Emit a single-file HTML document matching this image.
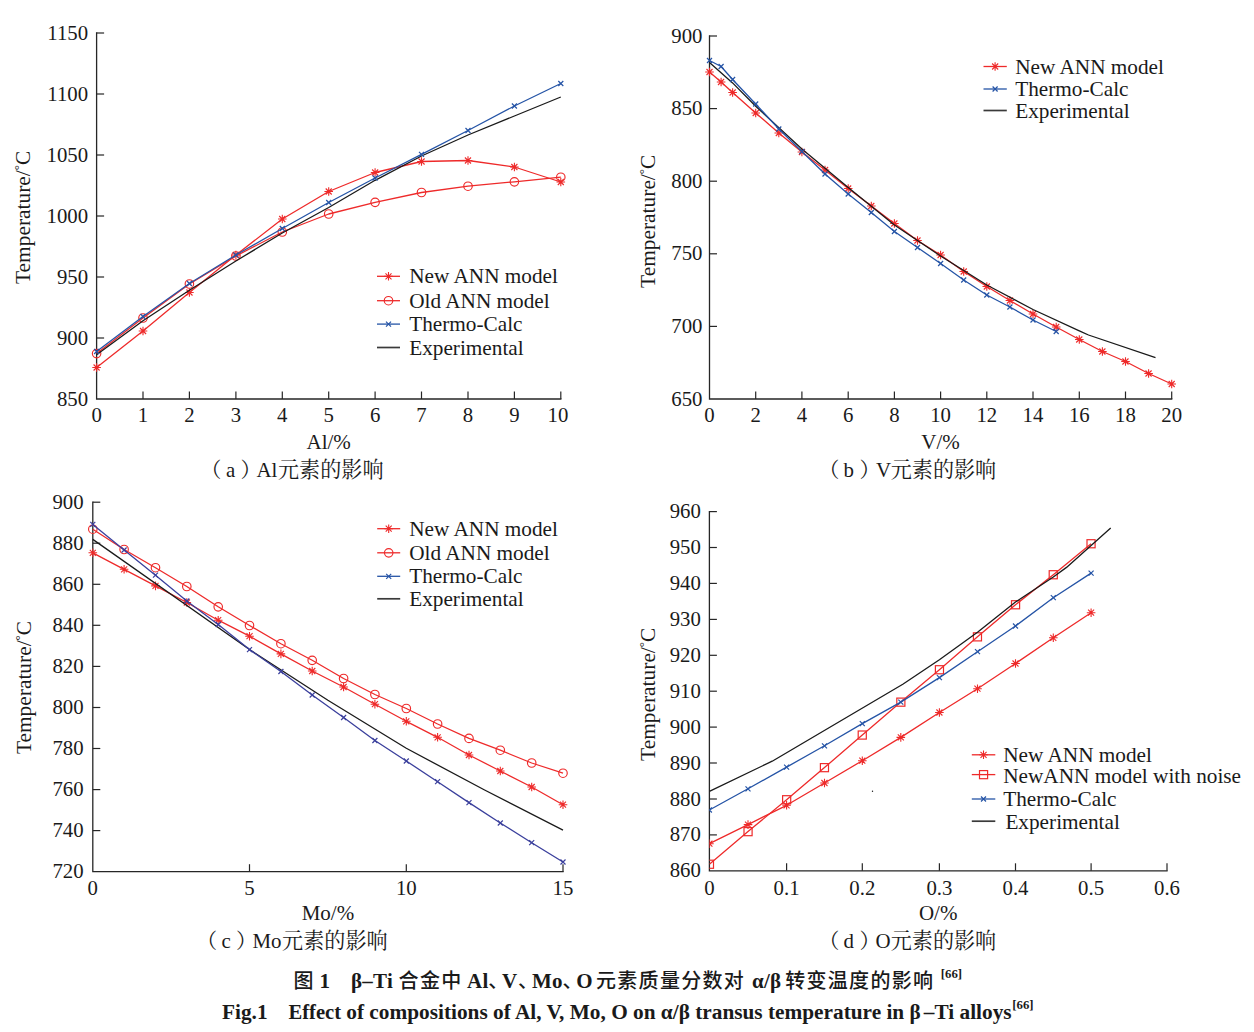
<!DOCTYPE html>
<html lang="zh">
<head>
<meta charset="utf-8">
<title>Fig.1 Effect of compositions on α/β transus temperature in β–Ti alloys</title>
<style>
html, body { margin: 0; padding: 0; background: #ffffff; }
body { width: 1254px; height: 1032px; overflow: hidden; }
svg { display: block; }
svg text { font-family: 'Liberation Serif', 'Noto Serif CJK SC', serif; fill: #1a1a1a; }
</style>
</head>
<body>
<svg width="1254" height="1032" viewBox="0 0 1254 1032">
<rect width="1254" height="1032" fill="#ffffff"/>
<path d="M96.6 33V399H560.8" stroke="#262626" stroke-width="1.3" fill="none" stroke-linecap="square"/>
<text transform="translate(96.6 422.0) scale(0.945 1)" text-anchor="middle" font-size="22">0</text>
<path d="M143.0 399v-7.5" stroke="#262626" stroke-width="1.2"/>
<text transform="translate(143.0 422.0) scale(0.945 1)" text-anchor="middle" font-size="22">1</text>
<path d="M189.4 399v-7.5" stroke="#262626" stroke-width="1.2"/>
<text transform="translate(189.4 422.0) scale(0.945 1)" text-anchor="middle" font-size="22">2</text>
<path d="M235.9 399v-7.5" stroke="#262626" stroke-width="1.2"/>
<text transform="translate(235.9 422.0) scale(0.945 1)" text-anchor="middle" font-size="22">3</text>
<path d="M282.3 399v-7.5" stroke="#262626" stroke-width="1.2"/>
<text transform="translate(282.3 422.0) scale(0.945 1)" text-anchor="middle" font-size="22">4</text>
<path d="M328.7 399v-7.5" stroke="#262626" stroke-width="1.2"/>
<text transform="translate(328.7 422.0) scale(0.945 1)" text-anchor="middle" font-size="22">5</text>
<path d="M375.1 399v-7.5" stroke="#262626" stroke-width="1.2"/>
<text transform="translate(375.1 422.0) scale(0.945 1)" text-anchor="middle" font-size="22">6</text>
<path d="M421.5 399v-7.5" stroke="#262626" stroke-width="1.2"/>
<text transform="translate(421.5 422.0) scale(0.945 1)" text-anchor="middle" font-size="22">7</text>
<path d="M468.0 399v-7.5" stroke="#262626" stroke-width="1.2"/>
<text transform="translate(468.0 422.0) scale(0.945 1)" text-anchor="middle" font-size="22">8</text>
<path d="M514.4 399v-7.5" stroke="#262626" stroke-width="1.2"/>
<text transform="translate(514.4 422.0) scale(0.945 1)" text-anchor="middle" font-size="22">9</text>
<path d="M560.8 399v-7.5" stroke="#262626" stroke-width="1.2"/>
<text transform="translate(558.0 422.0) scale(0.945 1)" text-anchor="middle" font-size="22">10</text>
<text transform="translate(88.1 405.5) scale(0.945 1)" text-anchor="end" font-size="22">850</text>
<path d="M96.6 338.0h7.5" stroke="#262626" stroke-width="1.2"/>
<text transform="translate(88.1 344.5) scale(0.945 1)" text-anchor="end" font-size="22">900</text>
<path d="M96.6 277.0h7.5" stroke="#262626" stroke-width="1.2"/>
<text transform="translate(88.1 283.5) scale(0.945 1)" text-anchor="end" font-size="22">950</text>
<path d="M96.6 216.0h7.5" stroke="#262626" stroke-width="1.2"/>
<text transform="translate(88.1 222.5) scale(0.945 1)" text-anchor="end" font-size="22">1000</text>
<path d="M96.6 155.0h7.5" stroke="#262626" stroke-width="1.2"/>
<text transform="translate(88.1 161.5) scale(0.945 1)" text-anchor="end" font-size="22">1050</text>
<path d="M96.6 94.0h7.5" stroke="#262626" stroke-width="1.2"/>
<text transform="translate(88.1 100.5) scale(0.945 1)" text-anchor="end" font-size="22">1100</text>
<path d="M96.6 33.0h7.5" stroke="#262626" stroke-width="1.2"/>
<text transform="translate(88.1 39.5) scale(0.945 1)" text-anchor="end" font-size="22">1150</text>
<text x="328.7" y="449" text-anchor="middle" font-size="21">Al/%</text>
<text transform="translate(30.3 217.4) rotate(-90)" text-anchor="middle" font-size="21.4">Temperature/<tspan font-size="13" dy="-7">°</tspan><tspan dy="7">C</tspan></text>
<polyline points="96.6,367.5 143.0,331.0 189.4,292.5 235.9,255.0 282.3,219.0 328.7,191.5 375.1,172.5 421.5,161.5 468.0,160.5 514.4,167.0 560.8,182.0" stroke="#ee2a2a" stroke-width="1.3" fill="none" stroke-linejoin="round"/>
<path d="M92.3 367.5H100.9M96.6 363.2V371.8M93.6 364.5L99.6 370.5M93.6 370.5L99.6 364.5" stroke="#ee2a2a" stroke-width="1.1" fill="none"/>
<path d="M138.7 331.0H147.3M143.0 326.7V335.3M140.0 328.0L146.1 334.0M140.0 334.0L146.1 328.0" stroke="#ee2a2a" stroke-width="1.1" fill="none"/>
<path d="M185.1 292.5H193.7M189.4 288.2V296.8M186.4 289.5L192.5 295.5M186.4 295.5L192.5 289.5" stroke="#ee2a2a" stroke-width="1.1" fill="none"/>
<path d="M231.6 255.0H240.2M235.9 250.7V259.3M232.8 252.0L238.9 258.0M232.8 258.0L238.9 252.0" stroke="#ee2a2a" stroke-width="1.1" fill="none"/>
<path d="M278.0 219.0H286.6M282.3 214.7V223.3M279.2 216.0L285.3 222.0M279.2 222.0L285.3 216.0" stroke="#ee2a2a" stroke-width="1.1" fill="none"/>
<path d="M324.4 191.5H333.0M328.7 187.2V195.8M325.7 188.5L331.7 194.5M325.7 194.5L331.7 188.5" stroke="#ee2a2a" stroke-width="1.1" fill="none"/>
<path d="M370.8 172.5H379.4M375.1 168.2V176.8M372.1 169.5L378.2 175.5M372.1 175.5L378.2 169.5" stroke="#ee2a2a" stroke-width="1.1" fill="none"/>
<path d="M417.2 161.5H425.8M421.5 157.2V165.8M418.5 158.5L424.6 164.5M418.5 164.5L424.6 158.5" stroke="#ee2a2a" stroke-width="1.1" fill="none"/>
<path d="M463.7 160.5H472.3M468.0 156.2V164.8M464.9 157.5L471.0 163.5M464.9 163.5L471.0 157.5" stroke="#ee2a2a" stroke-width="1.1" fill="none"/>
<path d="M510.1 167.0H518.7M514.4 162.7V171.3M511.3 164.0L517.4 170.0M511.3 170.0L517.4 164.0" stroke="#ee2a2a" stroke-width="1.1" fill="none"/>
<path d="M556.5 182.0H565.1M560.8 177.7V186.3M557.8 179.0L563.8 185.0M557.8 185.0L563.8 179.0" stroke="#ee2a2a" stroke-width="1.1" fill="none"/>
<polyline points="96.6,353.6 143.0,318.0 189.4,284.0 235.9,256.0 282.3,232.0 328.7,214.0 375.1,202.3 421.5,192.5 468.0,186.2 514.4,181.8 560.8,177.2" stroke="#ee2a2a" stroke-width="1.3" fill="none" stroke-linejoin="round"/>
<circle cx="96.6" cy="353.6" r="4.25" stroke="#ee2a2a" stroke-width="1.15" fill="none"/>
<circle cx="143.0" cy="318.0" r="4.25" stroke="#ee2a2a" stroke-width="1.15" fill="none"/>
<circle cx="189.4" cy="284.0" r="4.25" stroke="#ee2a2a" stroke-width="1.15" fill="none"/>
<circle cx="235.9" cy="256.0" r="4.25" stroke="#ee2a2a" stroke-width="1.15" fill="none"/>
<circle cx="282.3" cy="232.0" r="4.25" stroke="#ee2a2a" stroke-width="1.15" fill="none"/>
<circle cx="328.7" cy="214.0" r="4.25" stroke="#ee2a2a" stroke-width="1.15" fill="none"/>
<circle cx="375.1" cy="202.3" r="4.25" stroke="#ee2a2a" stroke-width="1.15" fill="none"/>
<circle cx="421.5" cy="192.5" r="4.25" stroke="#ee2a2a" stroke-width="1.15" fill="none"/>
<circle cx="468.0" cy="186.2" r="4.25" stroke="#ee2a2a" stroke-width="1.15" fill="none"/>
<circle cx="514.4" cy="181.8" r="4.25" stroke="#ee2a2a" stroke-width="1.15" fill="none"/>
<circle cx="560.8" cy="177.2" r="4.25" stroke="#ee2a2a" stroke-width="1.15" fill="none"/>
<polyline points="96.6,354.7 143.0,320.8 189.4,290.3 235.9,261.0 282.3,233.0 328.7,207.5 375.1,180.3 421.5,156.0 468.0,135.0 514.4,116.0 560.8,97.0" stroke="#1a1a1a" stroke-width="1.3" fill="none" stroke-linejoin="round"/>
<polyline points="96.6,351.5 143.0,316.5 189.4,283.5 235.9,255.0 282.3,228.5 328.7,202.5 375.1,178.0 421.5,154.3 468.0,130.5 514.4,106.0 560.8,83.5" stroke="#2554a6" stroke-width="1.3" fill="none" stroke-linejoin="round"/>
<path d="M94.1 349.0L99.1 354.0M94.1 354.0L99.1 349.0" stroke="#2554a6" stroke-width="1.2" fill="none"/>
<path d="M140.5 314.0L145.5 319.0M140.5 319.0L145.5 314.0" stroke="#2554a6" stroke-width="1.2" fill="none"/>
<path d="M186.9 281.0L191.9 286.0M186.9 286.0L191.9 281.0" stroke="#2554a6" stroke-width="1.2" fill="none"/>
<path d="M233.4 252.5L238.4 257.5M233.4 257.5L238.4 252.5" stroke="#2554a6" stroke-width="1.2" fill="none"/>
<path d="M279.8 226.0L284.8 231.0M279.8 231.0L284.8 226.0" stroke="#2554a6" stroke-width="1.2" fill="none"/>
<path d="M326.2 200.0L331.2 205.0M326.2 205.0L331.2 200.0" stroke="#2554a6" stroke-width="1.2" fill="none"/>
<path d="M372.6 175.5L377.6 180.5M372.6 180.5L377.6 175.5" stroke="#2554a6" stroke-width="1.2" fill="none"/>
<path d="M419.0 151.8L424.0 156.8M419.0 156.8L424.0 151.8" stroke="#2554a6" stroke-width="1.2" fill="none"/>
<path d="M465.5 128.0L470.5 133.0M465.5 133.0L470.5 128.0" stroke="#2554a6" stroke-width="1.2" fill="none"/>
<path d="M511.9 103.5L516.9 108.5M511.9 108.5L516.9 103.5" stroke="#2554a6" stroke-width="1.2" fill="none"/>
<path d="M558.3 81.0L563.3 86.0M558.3 86.0L563.3 81.0" stroke="#2554a6" stroke-width="1.2" fill="none"/>
<path d="M377 276.3H400" stroke="#ee2a2a" stroke-width="1.3"/>
<path d="M384.2 276.3H392.8M388.5 272.0V280.6M385.5 273.3L391.5 279.3M385.5 279.3L391.5 273.3" stroke="#ee2a2a" stroke-width="1.1" fill="none"/>
<text x="409.2" y="283.3" font-size="21.25">New ANN model</text>
<path d="M377 300.7H400" stroke="#ee2a2a" stroke-width="1.3"/>
<circle cx="388.5" cy="300.7" r="4.25" stroke="#ee2a2a" stroke-width="1.15" fill="none"/>
<text x="409.2" y="307.7" font-size="21.25">Old ANN model</text>
<path d="M377 324.1H400" stroke="#2554a6" stroke-width="1.3"/>
<path d="M386.0 321.6L391.0 326.6M386.0 326.6L391.0 321.6" stroke="#2554a6" stroke-width="1.2" fill="none"/>
<text x="409.2" y="331.1" font-size="21.25">Thermo-Calc</text>
<path d="M377 347.5H400" stroke="#3a3a3a" stroke-width="1.7"/>
<text x="409.2" y="354.5" font-size="21.25">Experimental</text>
<text y="477" font-size="20.9"><tspan x="200.4">（</tspan><tspan x="226">a</tspan><tspan x="240.6">）</tspan><tspan x="256.5">Al</tspan><tspan x="278" style="font-size:21.1px">元素的影响</tspan></text>
<path d="M709.5 36V399H1171.7" stroke="#262626" stroke-width="1.3" fill="none" stroke-linecap="square"/>
<text transform="translate(709.5 421.5) scale(0.945 1)" text-anchor="middle" font-size="22">0</text>
<path d="M755.7 399v-7.5" stroke="#262626" stroke-width="1.2"/>
<text transform="translate(755.7 421.5) scale(0.945 1)" text-anchor="middle" font-size="22">2</text>
<path d="M801.9 399v-7.5" stroke="#262626" stroke-width="1.2"/>
<text transform="translate(801.9 421.5) scale(0.945 1)" text-anchor="middle" font-size="22">4</text>
<path d="M848.2 399v-7.5" stroke="#262626" stroke-width="1.2"/>
<text transform="translate(848.2 421.5) scale(0.945 1)" text-anchor="middle" font-size="22">6</text>
<path d="M894.4 399v-7.5" stroke="#262626" stroke-width="1.2"/>
<text transform="translate(894.4 421.5) scale(0.945 1)" text-anchor="middle" font-size="22">8</text>
<path d="M940.6 399v-7.5" stroke="#262626" stroke-width="1.2"/>
<text transform="translate(940.6 421.5) scale(0.945 1)" text-anchor="middle" font-size="22">10</text>
<path d="M986.8 399v-7.5" stroke="#262626" stroke-width="1.2"/>
<text transform="translate(986.8 421.5) scale(0.945 1)" text-anchor="middle" font-size="22">12</text>
<path d="M1033.0 399v-7.5" stroke="#262626" stroke-width="1.2"/>
<text transform="translate(1033.0 421.5) scale(0.945 1)" text-anchor="middle" font-size="22">14</text>
<path d="M1079.3 399v-7.5" stroke="#262626" stroke-width="1.2"/>
<text transform="translate(1079.3 421.5) scale(0.945 1)" text-anchor="middle" font-size="22">16</text>
<path d="M1125.5 399v-7.5" stroke="#262626" stroke-width="1.2"/>
<text transform="translate(1125.5 421.5) scale(0.945 1)" text-anchor="middle" font-size="22">18</text>
<path d="M1171.7 399v-7.5" stroke="#262626" stroke-width="1.2"/>
<text transform="translate(1171.7 421.5) scale(0.945 1)" text-anchor="middle" font-size="22">20</text>
<text transform="translate(702.5 405.5) scale(0.945 1)" text-anchor="end" font-size="22">650</text>
<path d="M709.5 326.4h7.5" stroke="#262626" stroke-width="1.2"/>
<text transform="translate(702.5 332.9) scale(0.945 1)" text-anchor="end" font-size="22">700</text>
<path d="M709.5 253.8h7.5" stroke="#262626" stroke-width="1.2"/>
<text transform="translate(702.5 260.3) scale(0.945 1)" text-anchor="end" font-size="22">750</text>
<path d="M709.5 181.2h7.5" stroke="#262626" stroke-width="1.2"/>
<text transform="translate(702.5 187.7) scale(0.945 1)" text-anchor="end" font-size="22">800</text>
<path d="M709.5 108.6h7.5" stroke="#262626" stroke-width="1.2"/>
<text transform="translate(702.5 115.1) scale(0.945 1)" text-anchor="end" font-size="22">850</text>
<path d="M709.5 36.0h7.5" stroke="#262626" stroke-width="1.2"/>
<text transform="translate(702.5 42.5) scale(0.945 1)" text-anchor="end" font-size="22">900</text>
<text x="940.6" y="449" text-anchor="middle" font-size="21">V/%</text>
<text transform="translate(655 221.3) rotate(-90)" text-anchor="middle" font-size="21.4">Temperature/<tspan font-size="13" dy="-7">°</tspan><tspan dy="7">C</tspan></text>
<polyline points="709.5,72.0 721.1,82.0 732.6,92.5 755.7,113.0 778.8,133.0 801.9,152.0 825.0,170.0 848.2,188.5 871.3,206.0 894.4,223.5 917.5,240.5 940.6,255.0 963.7,271.5 986.8,286.5 1009.9,300.5 1033.0,314.0 1056.2,327.0 1079.3,339.5 1102.4,351.5 1125.5,361.5 1148.6,373.5 1171.7,384.0" stroke="#ee2a2a" stroke-width="1.3" fill="none" stroke-linejoin="round"/>
<path d="M705.2 72.0H713.8M709.5 67.7V76.3M706.5 69.0L712.5 75.0M706.5 75.0L712.5 69.0" stroke="#ee2a2a" stroke-width="1.1" fill="none"/>
<path d="M716.8 82.0H725.4M721.1 77.7V86.3M718.0 79.0L724.1 85.0M718.0 85.0L724.1 79.0" stroke="#ee2a2a" stroke-width="1.1" fill="none"/>
<path d="M728.3 92.5H736.9M732.6 88.2V96.8M729.6 89.5L735.7 95.5M729.6 95.5L735.7 89.5" stroke="#ee2a2a" stroke-width="1.1" fill="none"/>
<path d="M751.4 113.0H760.0M755.7 108.7V117.3M752.7 110.0L758.8 116.0M752.7 116.0L758.8 110.0" stroke="#ee2a2a" stroke-width="1.1" fill="none"/>
<path d="M774.5 133.0H783.1M778.8 128.7V137.3M775.8 130.0L781.9 136.0M775.8 136.0L781.9 130.0" stroke="#ee2a2a" stroke-width="1.1" fill="none"/>
<path d="M797.6 152.0H806.2M801.9 147.7V156.3M798.9 149.0L805.0 155.0M798.9 155.0L805.0 149.0" stroke="#ee2a2a" stroke-width="1.1" fill="none"/>
<path d="M820.8 170.0H829.3M825.0 165.7V174.3M822.0 167.0L828.1 173.0M822.0 173.0L828.1 167.0" stroke="#ee2a2a" stroke-width="1.1" fill="none"/>
<path d="M843.9 188.5H852.5M848.2 184.2V192.8M845.1 185.5L851.2 191.5M845.1 191.5L851.2 185.5" stroke="#ee2a2a" stroke-width="1.1" fill="none"/>
<path d="M867.0 206.0H875.6M871.3 201.7V210.3M868.2 203.0L874.3 209.0M868.2 209.0L874.3 203.0" stroke="#ee2a2a" stroke-width="1.1" fill="none"/>
<path d="M890.1 223.5H898.7M894.4 219.2V227.8M891.3 220.5L897.4 226.5M891.3 226.5L897.4 220.5" stroke="#ee2a2a" stroke-width="1.1" fill="none"/>
<path d="M913.2 240.5H921.8M917.5 236.2V244.8M914.4 237.5L920.5 243.5M914.4 243.5L920.5 237.5" stroke="#ee2a2a" stroke-width="1.1" fill="none"/>
<path d="M936.3 255.0H944.9M940.6 250.7V259.3M937.6 252.0L943.6 258.0M937.6 258.0L943.6 252.0" stroke="#ee2a2a" stroke-width="1.1" fill="none"/>
<path d="M959.4 271.5H968.0M963.7 267.2V275.8M960.7 268.5L966.8 274.5M960.7 274.5L966.8 268.5" stroke="#ee2a2a" stroke-width="1.1" fill="none"/>
<path d="M982.5 286.5H991.1M986.8 282.2V290.8M983.8 283.5L989.9 289.5M983.8 289.5L989.9 283.5" stroke="#ee2a2a" stroke-width="1.1" fill="none"/>
<path d="M1005.6 300.5H1014.2M1009.9 296.2V304.8M1006.9 297.5L1013.0 303.5M1006.9 303.5L1013.0 297.5" stroke="#ee2a2a" stroke-width="1.1" fill="none"/>
<path d="M1028.7 314.0H1037.3M1033.0 309.7V318.3M1030.0 311.0L1036.1 317.0M1030.0 317.0L1036.1 311.0" stroke="#ee2a2a" stroke-width="1.1" fill="none"/>
<path d="M1051.9 327.0H1060.5M1056.2 322.7V331.3M1053.1 324.0L1059.2 330.0M1053.1 330.0L1059.2 324.0" stroke="#ee2a2a" stroke-width="1.1" fill="none"/>
<path d="M1075.0 339.5H1083.6M1079.3 335.2V343.8M1076.2 336.5L1082.3 342.5M1076.2 342.5L1082.3 336.5" stroke="#ee2a2a" stroke-width="1.1" fill="none"/>
<path d="M1098.1 351.5H1106.7M1102.4 347.2V355.8M1099.3 348.5L1105.4 354.5M1099.3 354.5L1105.4 348.5" stroke="#ee2a2a" stroke-width="1.1" fill="none"/>
<path d="M1121.2 361.5H1129.8M1125.5 357.2V365.8M1122.4 358.5L1128.5 364.5M1122.4 364.5L1128.5 358.5" stroke="#ee2a2a" stroke-width="1.1" fill="none"/>
<path d="M1144.3 373.5H1152.9M1148.6 369.2V377.8M1145.5 370.5L1151.6 376.5M1145.5 376.5L1151.6 370.5" stroke="#ee2a2a" stroke-width="1.1" fill="none"/>
<path d="M1167.4 384.0H1176.0M1171.7 379.7V388.3M1168.7 381.0L1174.7 387.0M1168.7 387.0L1174.7 381.0" stroke="#ee2a2a" stroke-width="1.1" fill="none"/>
<polyline points="709.5,62.5 732.6,82.9 755.7,106.2 801.9,149.0 848.2,187.5 894.4,225.0 940.6,256.0 986.8,285.0 1033.0,309.5 1079.3,330.8 1088.5,335.0 1155.5,357.7" stroke="#1a1a1a" stroke-width="1.3" fill="none" stroke-linejoin="round"/>
<polyline points="709.5,60.5 721.1,66.5 732.6,79.5 755.7,104.0 778.8,129.0 801.9,151.5 825.0,174.0 848.2,194.0 871.3,212.5 894.4,231.5 917.5,247.5 940.6,263.5 963.7,280.0 986.8,295.0 1009.9,307.0 1033.0,320.0 1056.2,331.5" stroke="#2554a6" stroke-width="1.3" fill="none" stroke-linejoin="round"/>
<path d="M707.0 58.0L712.0 63.0M707.0 63.0L712.0 58.0" stroke="#2554a6" stroke-width="1.2" fill="none"/>
<path d="M718.6 64.0L723.6 69.0M718.6 69.0L723.6 64.0" stroke="#2554a6" stroke-width="1.2" fill="none"/>
<path d="M730.1 77.0L735.1 82.0M730.1 82.0L735.1 77.0" stroke="#2554a6" stroke-width="1.2" fill="none"/>
<path d="M753.2 101.5L758.2 106.5M753.2 106.5L758.2 101.5" stroke="#2554a6" stroke-width="1.2" fill="none"/>
<path d="M776.3 126.5L781.3 131.5M776.3 131.5L781.3 126.5" stroke="#2554a6" stroke-width="1.2" fill="none"/>
<path d="M799.4 149.0L804.4 154.0M799.4 154.0L804.4 149.0" stroke="#2554a6" stroke-width="1.2" fill="none"/>
<path d="M822.5 171.5L827.5 176.5M822.5 176.5L827.5 171.5" stroke="#2554a6" stroke-width="1.2" fill="none"/>
<path d="M845.7 191.5L850.7 196.5M845.7 196.5L850.7 191.5" stroke="#2554a6" stroke-width="1.2" fill="none"/>
<path d="M868.8 210.0L873.8 215.0M868.8 215.0L873.8 210.0" stroke="#2554a6" stroke-width="1.2" fill="none"/>
<path d="M891.9 229.0L896.9 234.0M891.9 234.0L896.9 229.0" stroke="#2554a6" stroke-width="1.2" fill="none"/>
<path d="M915.0 245.0L920.0 250.0M915.0 250.0L920.0 245.0" stroke="#2554a6" stroke-width="1.2" fill="none"/>
<path d="M938.1 261.0L943.1 266.0M938.1 266.0L943.1 261.0" stroke="#2554a6" stroke-width="1.2" fill="none"/>
<path d="M961.2 277.5L966.2 282.5M961.2 282.5L966.2 277.5" stroke="#2554a6" stroke-width="1.2" fill="none"/>
<path d="M984.3 292.5L989.3 297.5M984.3 297.5L989.3 292.5" stroke="#2554a6" stroke-width="1.2" fill="none"/>
<path d="M1007.4 304.5L1012.4 309.5M1007.4 309.5L1012.4 304.5" stroke="#2554a6" stroke-width="1.2" fill="none"/>
<path d="M1030.5 317.5L1035.5 322.5M1030.5 322.5L1035.5 317.5" stroke="#2554a6" stroke-width="1.2" fill="none"/>
<path d="M1053.7 329.0L1058.7 334.0M1053.7 334.0L1058.7 329.0" stroke="#2554a6" stroke-width="1.2" fill="none"/>
<path d="M983.5 66.5H1006.8" stroke="#ee2a2a" stroke-width="1.3"/>
<path d="M990.9 66.5H999.4M995.1 62.2V70.8M992.1 63.5L998.2 69.5M992.1 69.5L998.2 63.5" stroke="#ee2a2a" stroke-width="1.1" fill="none"/>
<text x="1015.2" y="73.5" font-size="21.25">New ANN model</text>
<path d="M983.5 89H1006.8" stroke="#2554a6" stroke-width="1.3"/>
<path d="M992.6 86.5L997.6 91.5M992.6 91.5L997.6 86.5" stroke="#2554a6" stroke-width="1.2" fill="none"/>
<text x="1015.2" y="96" font-size="21.25">Thermo-Calc</text>
<path d="M983.5 110.5H1006.8" stroke="#3a3a3a" stroke-width="1.7"/>
<text x="1015.2" y="117.5" font-size="21.25">Experimental</text>
<text y="477" font-size="20.9"><tspan x="818.4">（</tspan><tspan x="843.5">b</tspan><tspan x="859.6">）</tspan><tspan x="876">V</tspan><tspan x="890.7" style="font-size:21.1px">元素的影响</tspan></text>
<path d="M92.8 502.2V871.7H563" stroke="#262626" stroke-width="1.3" fill="none" stroke-linecap="square"/>
<text transform="translate(92.8 894.8) scale(0.945 1)" text-anchor="middle" font-size="22">0</text>
<path d="M249.5 871.7v-7.5" stroke="#262626" stroke-width="1.2"/>
<text transform="translate(249.5 894.8) scale(0.945 1)" text-anchor="middle" font-size="22">5</text>
<path d="M406.3 871.7v-7.5" stroke="#262626" stroke-width="1.2"/>
<text transform="translate(406.3 894.8) scale(0.945 1)" text-anchor="middle" font-size="22">10</text>
<path d="M563.0 871.7v-7.5" stroke="#262626" stroke-width="1.2"/>
<text transform="translate(563.0 894.8) scale(0.945 1)" text-anchor="middle" font-size="22">15</text>
<text transform="translate(83.6 878.2) scale(0.945 1)" text-anchor="end" font-size="22">720</text>
<path d="M92.8 830.6h7.5" stroke="#262626" stroke-width="1.2"/>
<text transform="translate(83.6 837.1) scale(0.945 1)" text-anchor="end" font-size="22">740</text>
<path d="M92.8 789.6h7.5" stroke="#262626" stroke-width="1.2"/>
<text transform="translate(83.6 796.1) scale(0.945 1)" text-anchor="end" font-size="22">760</text>
<path d="M92.8 748.5h7.5" stroke="#262626" stroke-width="1.2"/>
<text transform="translate(83.6 755.0) scale(0.945 1)" text-anchor="end" font-size="22">780</text>
<path d="M92.8 707.5h7.5" stroke="#262626" stroke-width="1.2"/>
<text transform="translate(83.6 714.0) scale(0.945 1)" text-anchor="end" font-size="22">800</text>
<path d="M92.8 666.4h7.5" stroke="#262626" stroke-width="1.2"/>
<text transform="translate(83.6 672.9) scale(0.945 1)" text-anchor="end" font-size="22">820</text>
<path d="M92.8 625.3h7.5" stroke="#262626" stroke-width="1.2"/>
<text transform="translate(83.6 631.8) scale(0.945 1)" text-anchor="end" font-size="22">840</text>
<path d="M92.8 584.3h7.5" stroke="#262626" stroke-width="1.2"/>
<text transform="translate(83.6 590.8) scale(0.945 1)" text-anchor="end" font-size="22">860</text>
<path d="M92.8 543.2h7.5" stroke="#262626" stroke-width="1.2"/>
<text transform="translate(83.6 549.7) scale(0.945 1)" text-anchor="end" font-size="22">880</text>
<path d="M92.8 502.2h7.5" stroke="#262626" stroke-width="1.2"/>
<text transform="translate(83.6 508.7) scale(0.945 1)" text-anchor="end" font-size="22">900</text>
<text x="327.9" y="920" text-anchor="middle" font-size="21">Mo/%</text>
<text transform="translate(30.5 687.5) rotate(-90)" text-anchor="middle" font-size="21.4">Temperature/<tspan font-size="13" dy="-7">°</tspan><tspan dy="7">C</tspan></text>
<polyline points="92.8,552.8 124.1,569.3 155.5,585.9 186.8,602.5 218.2,620.2 249.5,636.2 280.9,653.9 312.2,671.0 343.6,687.0 374.9,704.2 406.3,721.3 437.6,737.3 469.0,755.0 500.3,771.0 531.7,787.0 563.0,804.7" stroke="#ee2a2a" stroke-width="1.3" fill="none" stroke-linejoin="round"/>
<path d="M88.5 552.8H97.1M92.8 548.5V557.1M89.8 549.8L95.8 555.8M89.8 555.8L95.8 549.8" stroke="#ee2a2a" stroke-width="1.1" fill="none"/>
<path d="M119.8 569.3H128.4M124.1 565.0V573.6M121.1 566.3L127.2 572.3M121.1 572.3L127.2 566.3" stroke="#ee2a2a" stroke-width="1.1" fill="none"/>
<path d="M151.2 585.9H159.8M155.5 581.6V590.2M152.5 582.9L158.5 588.9M152.5 588.9L158.5 582.9" stroke="#ee2a2a" stroke-width="1.1" fill="none"/>
<path d="M182.5 602.5H191.1M186.8 598.2V606.8M183.8 599.5L189.9 605.5M183.8 605.5L189.9 599.5" stroke="#ee2a2a" stroke-width="1.1" fill="none"/>
<path d="M213.9 620.2H222.5M218.2 615.9V624.5M215.1 617.2L221.2 623.2M215.1 623.2L221.2 617.2" stroke="#ee2a2a" stroke-width="1.1" fill="none"/>
<path d="M245.2 636.2H253.8M249.5 631.9V640.5M246.5 633.2L252.6 639.2M246.5 639.2L252.6 633.2" stroke="#ee2a2a" stroke-width="1.1" fill="none"/>
<path d="M276.6 653.9H285.2M280.9 649.6V658.2M277.8 650.9L283.9 656.9M277.8 656.9L283.9 650.9" stroke="#ee2a2a" stroke-width="1.1" fill="none"/>
<path d="M307.9 671.0H316.5M312.2 666.7V675.3M309.2 668.0L315.3 674.0M309.2 674.0L315.3 668.0" stroke="#ee2a2a" stroke-width="1.1" fill="none"/>
<path d="M339.3 687.0H347.9M343.6 682.7V691.3M340.5 684.0L346.6 690.0M340.5 690.0L346.6 684.0" stroke="#ee2a2a" stroke-width="1.1" fill="none"/>
<path d="M370.6 704.2H379.2M374.9 699.9V708.5M371.9 701.2L378.0 707.2M371.9 707.2L378.0 701.2" stroke="#ee2a2a" stroke-width="1.1" fill="none"/>
<path d="M402.0 721.3H410.6M406.3 717.0V725.6M403.2 718.3L409.3 724.3M403.2 724.3L409.3 718.3" stroke="#ee2a2a" stroke-width="1.1" fill="none"/>
<path d="M433.3 737.3H441.9M437.6 733.0V741.6M434.6 734.3L440.7 740.3M434.6 740.3L440.7 734.3" stroke="#ee2a2a" stroke-width="1.1" fill="none"/>
<path d="M464.7 755.0H473.3M469.0 750.7V759.3M465.9 752.0L472.0 758.0M465.9 758.0L472.0 752.0" stroke="#ee2a2a" stroke-width="1.1" fill="none"/>
<path d="M496.0 771.0H504.6M500.3 766.7V775.3M497.3 768.0L503.3 774.0M497.3 774.0L503.3 768.0" stroke="#ee2a2a" stroke-width="1.1" fill="none"/>
<path d="M527.4 787.0H536.0M531.7 782.7V791.3M528.6 784.0L534.7 790.0M528.6 790.0L534.7 784.0" stroke="#ee2a2a" stroke-width="1.1" fill="none"/>
<path d="M558.7 804.7H567.3M563.0 800.4V809.0M560.0 801.7L566.0 807.7M560.0 807.7L566.0 801.7" stroke="#ee2a2a" stroke-width="1.1" fill="none"/>
<polyline points="92.8,529.2 124.1,549.5 155.5,567.7 186.8,586.5 218.2,606.8 249.5,625.5 280.9,643.7 312.2,660.3 343.6,678.5 374.9,694.5 406.3,708.5 437.6,724.0 469.0,738.4 500.3,750.2 531.7,763.0 563.0,773.2" stroke="#ee2a2a" stroke-width="1.3" fill="none" stroke-linejoin="round"/>
<circle cx="92.8" cy="529.2" r="4.25" stroke="#ee2a2a" stroke-width="1.15" fill="none"/>
<circle cx="124.1" cy="549.5" r="4.25" stroke="#ee2a2a" stroke-width="1.15" fill="none"/>
<circle cx="155.5" cy="567.7" r="4.25" stroke="#ee2a2a" stroke-width="1.15" fill="none"/>
<circle cx="186.8" cy="586.5" r="4.25" stroke="#ee2a2a" stroke-width="1.15" fill="none"/>
<circle cx="218.2" cy="606.8" r="4.25" stroke="#ee2a2a" stroke-width="1.15" fill="none"/>
<circle cx="249.5" cy="625.5" r="4.25" stroke="#ee2a2a" stroke-width="1.15" fill="none"/>
<circle cx="280.9" cy="643.7" r="4.25" stroke="#ee2a2a" stroke-width="1.15" fill="none"/>
<circle cx="312.2" cy="660.3" r="4.25" stroke="#ee2a2a" stroke-width="1.15" fill="none"/>
<circle cx="343.6" cy="678.5" r="4.25" stroke="#ee2a2a" stroke-width="1.15" fill="none"/>
<circle cx="374.9" cy="694.5" r="4.25" stroke="#ee2a2a" stroke-width="1.15" fill="none"/>
<circle cx="406.3" cy="708.5" r="4.25" stroke="#ee2a2a" stroke-width="1.15" fill="none"/>
<circle cx="437.6" cy="724.0" r="4.25" stroke="#ee2a2a" stroke-width="1.15" fill="none"/>
<circle cx="469.0" cy="738.4" r="4.25" stroke="#ee2a2a" stroke-width="1.15" fill="none"/>
<circle cx="500.3" cy="750.2" r="4.25" stroke="#ee2a2a" stroke-width="1.15" fill="none"/>
<circle cx="531.7" cy="763.0" r="4.25" stroke="#ee2a2a" stroke-width="1.15" fill="none"/>
<circle cx="563.0" cy="773.2" r="4.25" stroke="#ee2a2a" stroke-width="1.15" fill="none"/>
<polyline points="92.8,539.4 249.5,649.5 327.9,700.2 406.3,748.3 484.6,790.0 563.0,830.1" stroke="#1a1a1a" stroke-width="1.3" fill="none" stroke-linejoin="round"/>
<polyline points="92.8,524.4 124.1,550.0 155.5,575.2 186.8,601.0 218.2,624.5 249.5,649.6 280.9,671.5 312.2,695.0 343.6,717.5 374.9,740.5 406.3,761.0 437.6,781.7 469.0,802.6 500.3,823.0 531.7,842.7 563.0,862.0" stroke="#3a3f9c" stroke-width="1.3" fill="none" stroke-linejoin="round"/>
<path d="M90.3 521.9L95.3 526.9M90.3 526.9L95.3 521.9" stroke="#3a3f9c" stroke-width="1.2" fill="none"/>
<path d="M121.6 547.5L126.6 552.5M121.6 552.5L126.6 547.5" stroke="#3a3f9c" stroke-width="1.2" fill="none"/>
<path d="M153.0 572.7L158.0 577.7M153.0 577.7L158.0 572.7" stroke="#3a3f9c" stroke-width="1.2" fill="none"/>
<path d="M184.3 598.5L189.3 603.5M184.3 603.5L189.3 598.5" stroke="#3a3f9c" stroke-width="1.2" fill="none"/>
<path d="M215.7 622.0L220.7 627.0M215.7 627.0L220.7 622.0" stroke="#3a3f9c" stroke-width="1.2" fill="none"/>
<path d="M247.0 647.1L252.0 652.1M247.0 652.1L252.0 647.1" stroke="#3a3f9c" stroke-width="1.2" fill="none"/>
<path d="M278.4 669.0L283.4 674.0M278.4 674.0L283.4 669.0" stroke="#3a3f9c" stroke-width="1.2" fill="none"/>
<path d="M309.7 692.5L314.7 697.5M309.7 697.5L314.7 692.5" stroke="#3a3f9c" stroke-width="1.2" fill="none"/>
<path d="M341.1 715.0L346.1 720.0M341.1 720.0L346.1 715.0" stroke="#3a3f9c" stroke-width="1.2" fill="none"/>
<path d="M372.4 738.0L377.4 743.0M372.4 743.0L377.4 738.0" stroke="#3a3f9c" stroke-width="1.2" fill="none"/>
<path d="M403.8 758.5L408.8 763.5M403.8 763.5L408.8 758.5" stroke="#3a3f9c" stroke-width="1.2" fill="none"/>
<path d="M435.1 779.2L440.1 784.2M435.1 784.2L440.1 779.2" stroke="#3a3f9c" stroke-width="1.2" fill="none"/>
<path d="M466.5 800.1L471.5 805.1M466.5 805.1L471.5 800.1" stroke="#3a3f9c" stroke-width="1.2" fill="none"/>
<path d="M497.8 820.5L502.8 825.5M497.8 825.5L502.8 820.5" stroke="#3a3f9c" stroke-width="1.2" fill="none"/>
<path d="M529.2 840.2L534.2 845.2M529.2 845.2L534.2 840.2" stroke="#3a3f9c" stroke-width="1.2" fill="none"/>
<path d="M560.5 859.5L565.5 864.5M560.5 864.5L565.5 859.5" stroke="#3a3f9c" stroke-width="1.2" fill="none"/>
<path d="M377.2 528.7H400.2" stroke="#ee2a2a" stroke-width="1.3"/>
<path d="M384.4 528.7H393.0M388.7 524.4V533.0M385.7 525.7L391.7 531.7M385.7 531.7L391.7 525.7" stroke="#ee2a2a" stroke-width="1.1" fill="none"/>
<text x="409.2" y="535.7" font-size="21.25">New ANN model</text>
<path d="M377.2 552.8H400.2" stroke="#ee2a2a" stroke-width="1.3"/>
<circle cx="388.7" cy="552.8" r="4.25" stroke="#ee2a2a" stroke-width="1.15" fill="none"/>
<text x="409.2" y="559.8" font-size="21.25">Old ANN model</text>
<path d="M377.2 576.3H400.2" stroke="#2554a6" stroke-width="1.3"/>
<path d="M386.2 573.8L391.2 578.8M386.2 578.8L391.2 573.8" stroke="#2554a6" stroke-width="1.2" fill="none"/>
<text x="409.2" y="583.3" font-size="21.25">Thermo-Calc</text>
<path d="M377.2 598.8H400.2" stroke="#3a3a3a" stroke-width="1.7"/>
<text x="409.2" y="605.8" font-size="21.25">Experimental</text>
<text y="948" font-size="20.9"><tspan x="196.2">（</tspan><tspan x="221.5">c</tspan><tspan x="236.1">）</tspan><tspan x="252.5">Mo</tspan><tspan x="282.1" style="font-size:21.1px">元素的影响</tspan></text>
<path d="M709.4 511.6V870.8H1167" stroke="#262626" stroke-width="1.3" fill="none" stroke-linecap="square"/>
<text transform="translate(709.4 894.8) scale(0.945 1)" text-anchor="middle" font-size="22">0</text>
<path d="M786.6 870.8v-7.5" stroke="#262626" stroke-width="1.2"/>
<text transform="translate(786.6 894.8) scale(0.945 1)" text-anchor="middle" font-size="22">0.1</text>
<path d="M862.3 870.8v-7.5" stroke="#262626" stroke-width="1.2"/>
<text transform="translate(862.3 894.8) scale(0.945 1)" text-anchor="middle" font-size="22">0.2</text>
<path d="M939.4 870.8v-7.5" stroke="#262626" stroke-width="1.2"/>
<text transform="translate(939.4 894.8) scale(0.945 1)" text-anchor="middle" font-size="22">0.3</text>
<path d="M1015.5 870.8v-7.5" stroke="#262626" stroke-width="1.2"/>
<text transform="translate(1015.5 894.8) scale(0.945 1)" text-anchor="middle" font-size="22">0.4</text>
<path d="M1091.1 870.8v-7.5" stroke="#262626" stroke-width="1.2"/>
<text transform="translate(1091.1 894.8) scale(0.945 1)" text-anchor="middle" font-size="22">0.5</text>
<path d="M1167.0 870.8v-7.5" stroke="#262626" stroke-width="1.2"/>
<text transform="translate(1167.0 894.8) scale(0.945 1)" text-anchor="middle" font-size="22">0.6</text>
<text transform="translate(700.9 877.3) scale(0.945 1)" text-anchor="end" font-size="22">860</text>
<path d="M709.4 834.9h7.5" stroke="#262626" stroke-width="1.2"/>
<text transform="translate(700.9 841.4) scale(0.945 1)" text-anchor="end" font-size="22">870</text>
<path d="M709.4 799.0h7.5" stroke="#262626" stroke-width="1.2"/>
<text transform="translate(700.9 805.5) scale(0.945 1)" text-anchor="end" font-size="22">880</text>
<path d="M709.4 763.0h7.5" stroke="#262626" stroke-width="1.2"/>
<text transform="translate(700.9 769.5) scale(0.945 1)" text-anchor="end" font-size="22">890</text>
<path d="M709.4 727.1h7.5" stroke="#262626" stroke-width="1.2"/>
<text transform="translate(700.9 733.6) scale(0.945 1)" text-anchor="end" font-size="22">900</text>
<path d="M709.4 691.2h7.5" stroke="#262626" stroke-width="1.2"/>
<text transform="translate(700.9 697.7) scale(0.945 1)" text-anchor="end" font-size="22">910</text>
<path d="M709.4 655.3h7.5" stroke="#262626" stroke-width="1.2"/>
<text transform="translate(700.9 661.8) scale(0.945 1)" text-anchor="end" font-size="22">920</text>
<path d="M709.4 619.4h7.5" stroke="#262626" stroke-width="1.2"/>
<text transform="translate(700.9 625.9) scale(0.945 1)" text-anchor="end" font-size="22">930</text>
<path d="M709.4 583.4h7.5" stroke="#262626" stroke-width="1.2"/>
<text transform="translate(700.9 589.9) scale(0.945 1)" text-anchor="end" font-size="22">940</text>
<path d="M709.4 547.5h7.5" stroke="#262626" stroke-width="1.2"/>
<text transform="translate(700.9 554.0) scale(0.945 1)" text-anchor="end" font-size="22">950</text>
<path d="M709.4 511.6h7.5" stroke="#262626" stroke-width="1.2"/>
<text transform="translate(700.9 518.1) scale(0.945 1)" text-anchor="end" font-size="22">960</text>
<text x="938.2" y="920" text-anchor="middle" font-size="21">O/%</text>
<text transform="translate(654.5 694.3) rotate(-90)" text-anchor="middle" font-size="21.4">Temperature/<tspan font-size="13" dy="-7">°</tspan><tspan dy="7">C</tspan></text>
<clipPath id="clipd"><rect x="709.4" y="501.6" width="477.6" height="369.19999999999993"/></clipPath>
<g clip-path="url(#clipd)">
<polyline points="709.4,843.7 748.0,824.6 786.6,805.3 824.5,783.0 862.3,760.7 900.8,737.4 939.4,712.5 977.5,688.7 1015.5,663.5 1053.3,637.8 1091.1,612.7" stroke="#ee2a2a" stroke-width="1.3" fill="none" stroke-linejoin="round"/>
<path d="M705.1 843.7H713.7M709.4 839.4V848.0M706.4 840.7L712.4 846.7M706.4 846.7L712.4 840.7" stroke="#ee2a2a" stroke-width="1.1" fill="none"/>
<path d="M743.7 824.6H752.3M748.0 820.3V828.9M745.0 821.6L751.0 827.6M745.0 827.6L751.0 821.6" stroke="#ee2a2a" stroke-width="1.1" fill="none"/>
<path d="M782.3 805.3H790.9M786.6 801.0V809.6M783.6 802.3L789.6 808.3M783.6 808.3L789.6 802.3" stroke="#ee2a2a" stroke-width="1.1" fill="none"/>
<path d="M820.2 783.0H828.8M824.5 778.7V787.3M821.4 780.0L827.5 786.0M821.4 786.0L827.5 780.0" stroke="#ee2a2a" stroke-width="1.1" fill="none"/>
<path d="M858.0 760.7H866.6M862.3 756.4V765.0M859.3 757.7L865.3 763.7M859.3 763.7L865.3 757.7" stroke="#ee2a2a" stroke-width="1.1" fill="none"/>
<path d="M896.5 737.4H905.1M900.8 733.1V741.7M897.8 734.4L903.9 740.4M897.8 740.4L903.9 734.4" stroke="#ee2a2a" stroke-width="1.1" fill="none"/>
<path d="M935.1 712.5H943.7M939.4 708.2V716.8M936.4 709.5L942.4 715.5M936.4 715.5L942.4 709.5" stroke="#ee2a2a" stroke-width="1.1" fill="none"/>
<path d="M973.2 688.7H981.8M977.5 684.4V693.0M974.4 685.7L980.5 691.7M974.4 691.7L980.5 685.7" stroke="#ee2a2a" stroke-width="1.1" fill="none"/>
<path d="M1011.2 663.5H1019.8M1015.5 659.2V667.8M1012.5 660.5L1018.5 666.5M1012.5 666.5L1018.5 660.5" stroke="#ee2a2a" stroke-width="1.1" fill="none"/>
<path d="M1049.0 637.8H1057.6M1053.3 633.5V642.1M1050.3 634.8L1056.3 640.8M1050.3 640.8L1056.3 634.8" stroke="#ee2a2a" stroke-width="1.1" fill="none"/>
<path d="M1086.8 612.7H1095.4M1091.1 608.4V617.0M1088.1 609.7L1094.1 615.7M1088.1 615.7L1094.1 609.7" stroke="#ee2a2a" stroke-width="1.1" fill="none"/>
<polyline points="709.4,864.2 748.0,831.6 786.6,799.7 824.5,767.6 862.3,735.0 900.8,702.1 939.4,669.7 977.5,636.8 1015.5,604.7 1053.3,574.7 1091.1,543.7" stroke="#ee2a2a" stroke-width="1.3" fill="none" stroke-linejoin="round"/>
<rect x="705.4" y="860.2" width="8.1" height="8.1" stroke="#ee2a2a" stroke-width="1.2" fill="none"/>
<rect x="744.0" y="827.6" width="8.1" height="8.1" stroke="#ee2a2a" stroke-width="1.2" fill="none"/>
<rect x="782.6" y="795.7" width="8.1" height="8.1" stroke="#ee2a2a" stroke-width="1.2" fill="none"/>
<rect x="820.4" y="763.6" width="8.1" height="8.1" stroke="#ee2a2a" stroke-width="1.2" fill="none"/>
<rect x="858.2" y="731.0" width="8.1" height="8.1" stroke="#ee2a2a" stroke-width="1.2" fill="none"/>
<rect x="896.8" y="698.1" width="8.1" height="8.1" stroke="#ee2a2a" stroke-width="1.2" fill="none"/>
<rect x="935.4" y="665.7" width="8.1" height="8.1" stroke="#ee2a2a" stroke-width="1.2" fill="none"/>
<rect x="973.4" y="632.8" width="8.1" height="8.1" stroke="#ee2a2a" stroke-width="1.2" fill="none"/>
<rect x="1011.5" y="600.7" width="8.1" height="8.1" stroke="#ee2a2a" stroke-width="1.2" fill="none"/>
<rect x="1049.2" y="570.7" width="8.1" height="8.1" stroke="#ee2a2a" stroke-width="1.2" fill="none"/>
<rect x="1087.0" y="539.7" width="8.1" height="8.1" stroke="#ee2a2a" stroke-width="1.2" fill="none"/>
<polyline points="709.4,791.3 772.2,761.2 902.8,684.3 939.4,659.7 977.5,632.3 1015.5,602.0 1053.3,577.0 1066.5,567.4 1110.7,528.0" stroke="#1a1a1a" stroke-width="1.3" fill="none" stroke-linejoin="round"/>
<polyline points="709.4,810.0 748.0,788.8 786.6,767.1 824.5,745.8 862.3,723.6 900.8,702.1 939.4,677.6 977.5,651.7 1015.5,626.0 1053.3,597.7 1091.1,573.1" stroke="#2554a6" stroke-width="1.3" fill="none" stroke-linejoin="round"/>
<path d="M706.9 807.5L711.9 812.5M706.9 812.5L711.9 807.5" stroke="#2554a6" stroke-width="1.2" fill="none"/>
<path d="M745.5 786.3L750.5 791.3M745.5 791.3L750.5 786.3" stroke="#2554a6" stroke-width="1.2" fill="none"/>
<path d="M784.1 764.6L789.1 769.6M784.1 769.6L789.1 764.6" stroke="#2554a6" stroke-width="1.2" fill="none"/>
<path d="M822.0 743.3L827.0 748.3M822.0 748.3L827.0 743.3" stroke="#2554a6" stroke-width="1.2" fill="none"/>
<path d="M859.8 721.1L864.8 726.1M859.8 726.1L864.8 721.1" stroke="#2554a6" stroke-width="1.2" fill="none"/>
<path d="M898.3 699.6L903.3 704.6M898.3 704.6L903.3 699.6" stroke="#2554a6" stroke-width="1.2" fill="none"/>
<path d="M936.9 675.1L941.9 680.1M936.9 680.1L941.9 675.1" stroke="#2554a6" stroke-width="1.2" fill="none"/>
<path d="M975.0 649.2L980.0 654.2M975.0 654.2L980.0 649.2" stroke="#2554a6" stroke-width="1.2" fill="none"/>
<path d="M1013.0 623.5L1018.0 628.5M1013.0 628.5L1018.0 623.5" stroke="#2554a6" stroke-width="1.2" fill="none"/>
<path d="M1050.8 595.2L1055.8 600.2M1050.8 600.2L1055.8 595.2" stroke="#2554a6" stroke-width="1.2" fill="none"/>
<path d="M1088.6 570.6L1093.6 575.6M1088.6 575.6L1093.6 570.6" stroke="#2554a6" stroke-width="1.2" fill="none"/>
</g>
<circle cx="872.5" cy="791.3" r="0.7" fill="#1a1a1a"/>
<path d="M971.8 754.8H995.3" stroke="#ee2a2a" stroke-width="1.3"/>
<path d="M979.2 754.8H987.8M983.5 750.5V759.1M980.5 751.8L986.6 757.8M980.5 757.8L986.6 751.8" stroke="#ee2a2a" stroke-width="1.1" fill="none"/>
<text x="1003.2" y="761.8" font-size="21.25">New ANN model</text>
<path d="M971.8 774.6H995.3" stroke="#ee2a2a" stroke-width="1.3"/>
<rect x="979.5" y="770.6" width="8.1" height="8.1" stroke="#ee2a2a" stroke-width="1.2" fill="none"/>
<text x="1003.2" y="783" font-size="21.25">NewANN model with noise</text>
<path d="M971.8 799H995.3" stroke="#2554a6" stroke-width="1.3"/>
<path d="M981.0 796.5L986.0 801.5M981.0 801.5L986.0 796.5" stroke="#2554a6" stroke-width="1.2" fill="none"/>
<text x="1003.2" y="805.5" font-size="21.25">Thermo-Calc</text>
<path d="M971.8 821.2H995.3" stroke="#3a3a3a" stroke-width="1.7"/>
<text x="1005.4000000000001" y="828.6" font-size="21.25">Experimental</text>
<text y="948" font-size="20.9"><tspan x="818.4">（</tspan><tspan x="843.5">d</tspan><tspan x="859.6">）</tspan><tspan x="875.5">O</tspan><tspan x="890.7" style="font-size:21.1px">元素的影响</tspan></text>
<text y="988" font-size="21" style="font-family:'Liberation Serif', 'Noto Sans CJK SC', sans-serif;font-weight:bold;letter-spacing:0.25px"><tspan x="293.5" style="font-weight:500;font-size:20px;letter-spacing:1.3px">图</tspan><tspan x="319.5">1</tspan><tspan x="351">β–Ti</tspan><tspan x="398.6" style="font-weight:500;font-size:20px;letter-spacing:1.3px">合金中</tspan><tspan x="467">Al</tspan><tspan x="488.3" style="font-weight:500;font-size:20px;letter-spacing:1.3px">、</tspan><tspan x="502">V</tspan><tspan x="518" style="font-weight:500;font-size:20px;letter-spacing:1.3px">、</tspan><tspan x="532">Mo</tspan><tspan x="562.5" style="font-weight:500;font-size:20px;letter-spacing:1.3px">、</tspan><tspan x="576.3">O</tspan><tspan x="596" style="font-weight:500;font-size:20px;letter-spacing:1.3px">元素质量分数对</tspan><tspan x="752">α/β</tspan><tspan x="785.2" style="font-weight:500;font-size:20px;letter-spacing:1.3px">转变温度的影响</tspan><tspan x="940.8" y="977.8" style="font-size:12.8px;letter-spacing:0">[66]</tspan></text>
<text y="1019.1" font-size="21.3" style="font-weight:bold" xml:space="preserve"><tspan x="222">Fig.1</tspan><tspan x="288.5" textLength="52.6" lengthAdjust="spacingAndGlyphs">Effect</tspan><tspan x="346.3">of compositions of Al, V, Mo, O on α/β transus temperature in β</tspan><tspan x="923.8">–Ti alloys</tspan><tspan x="1012.3" y="1009.3" style="font-size:12.8px">[66]</tspan></text>
</svg>
</body>
</html>
